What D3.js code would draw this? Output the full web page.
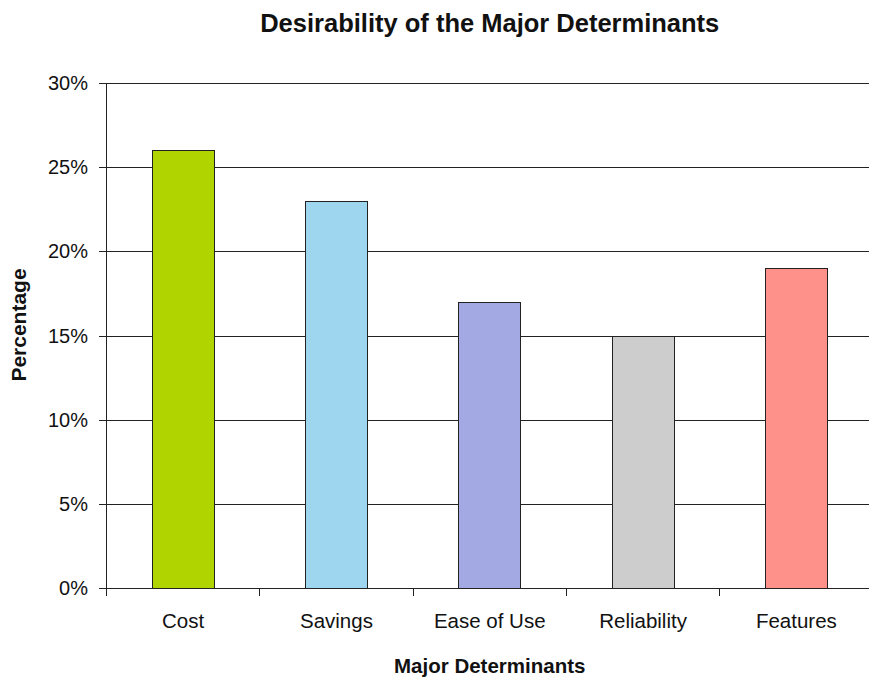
<!DOCTYPE html>
<html>
<head>
<meta charset="utf-8">
<script src="https://cdn.jsdelivr.net/npm/d3@7"></script>
<style>
  html, body { margin: 0; padding: 0; background: #fff; }
  svg { display: block; font-family: "Liberation Sans", Arial, sans-serif; }
</style>
</head>
<body>
<svg id="chart" width="869" height="678"></svg>
<script>
// Survey results: share of respondents naming each determinant
const categories = ["Cost", "Savings", "Ease of Use", "Reliability", "Features"];
const values = [26, 23, 17, 15, 19];
const colors = ["#b0d400", "#9dd6ee", "#a3a9e2", "#cdcdcd", "#ff918b"];
const yTicks = [0, 5, 10, 15, 20, 25, 30];

const svg = d3.select("#chart");
const margin = { left: 106.5, right: -4, top: 83, bottom: 90 };
const W = 869, H = 678;
const x0 = margin.left, x1 = W - margin.right;
const yTop = margin.top, yBottom = H - margin.bottom;

const x = d3.scaleBand().domain(categories).range([x0, x1]).paddingInner(0.595).paddingOuter(0.2975);
const xTicks = d3.scaleBand().domain(categories).range([x0, x1]);
const y = d3.scaleLinear().domain([0, 30]).range([yBottom, yTop]);

// Horizontal gridlines with short tick marks to the left of the axis
const grid = svg.append("g");
grid.selectAll("line").data(yTicks).join("line")
  .attr("x1", 99).attr("x2", x1)
  .attr("y1", d => Math.round(y(d)) + 0.5).attr("y2", d => Math.round(y(d)) + 0.5)
  .attr("stroke", "#222").attr("stroke-width", 1);

// Y tick labels
svg.append("g").selectAll("text").data(yTicks).join("text")
  .attr("x", 88).attr("y", d => y(d)).attr("dy", "0.35em")
  .attr("text-anchor", "end").attr("font-size", 20).attr("fill", "#111")
  .text(d => d + "%");

// Bars
svg.append("g").selectAll("rect").data(categories).join("rect")
  .attr("x", d => Math.floor(x(d)) + 0.5)
  .attr("y", (d, i) => Math.round(y(values[i])) + 0.5)
  .attr("width", Math.round(x.bandwidth()))
  .attr("height", (d, i) => Math.round(y(0)) - Math.round(y(values[i])))
  .attr("fill", (d, i) => colors[i])
  .attr("stroke", "#222").attr("stroke-width", 1);

// Y axis line
svg.append("line")
  .attr("x1", Math.floor(x0) + 0.5).attr("x2", Math.floor(x0) + 0.5)
  .attr("y1", yTop).attr("y2", Math.round(yBottom) + 8)
  .attr("stroke", "#222");

// X axis tick marks at category boundaries
const bounds = categories.map(c => xTicks(c)).concat([x1]);
svg.append("g").selectAll("line").data(bounds).join("line")
  .attr("x1", d => Math.floor(d) + 0.5).attr("x2", d => Math.floor(d) + 0.5)
  .attr("y1", Math.round(yBottom)).attr("y2", Math.round(yBottom) + 8)
  .attr("stroke", "#222");

// Category labels
svg.append("g").selectAll("text").data(categories).join("text")
  .attr("x", d => xTicks(d) + xTicks.bandwidth() / 2)
  .attr("y", 628).attr("text-anchor", "middle")
  .attr("font-size", 20.5).attr("fill", "#111")
  .text(d => d);

// Titles
const midX = (x0 + x1) / 2;
svg.append("text").attr("x", midX).attr("y", 32)
  .attr("text-anchor", "middle").attr("font-size", 25.5).attr("font-weight", "bold")
  .attr("fill", "#111").text("Desirability of the Major Determinants");

svg.append("text").attr("x", midX).attr("y", 673)
  .attr("text-anchor", "middle").attr("font-size", 20.5).attr("font-weight", "bold")
  .attr("fill", "#111").text("Major Determinants");

svg.append("text")
  .attr("transform", "translate(26, 325) rotate(-90)")
  .attr("text-anchor", "middle").attr("font-size", 21).attr("font-weight", "bold")
  .attr("fill", "#111").text("Percentage");
</script>
</body>
</html>
